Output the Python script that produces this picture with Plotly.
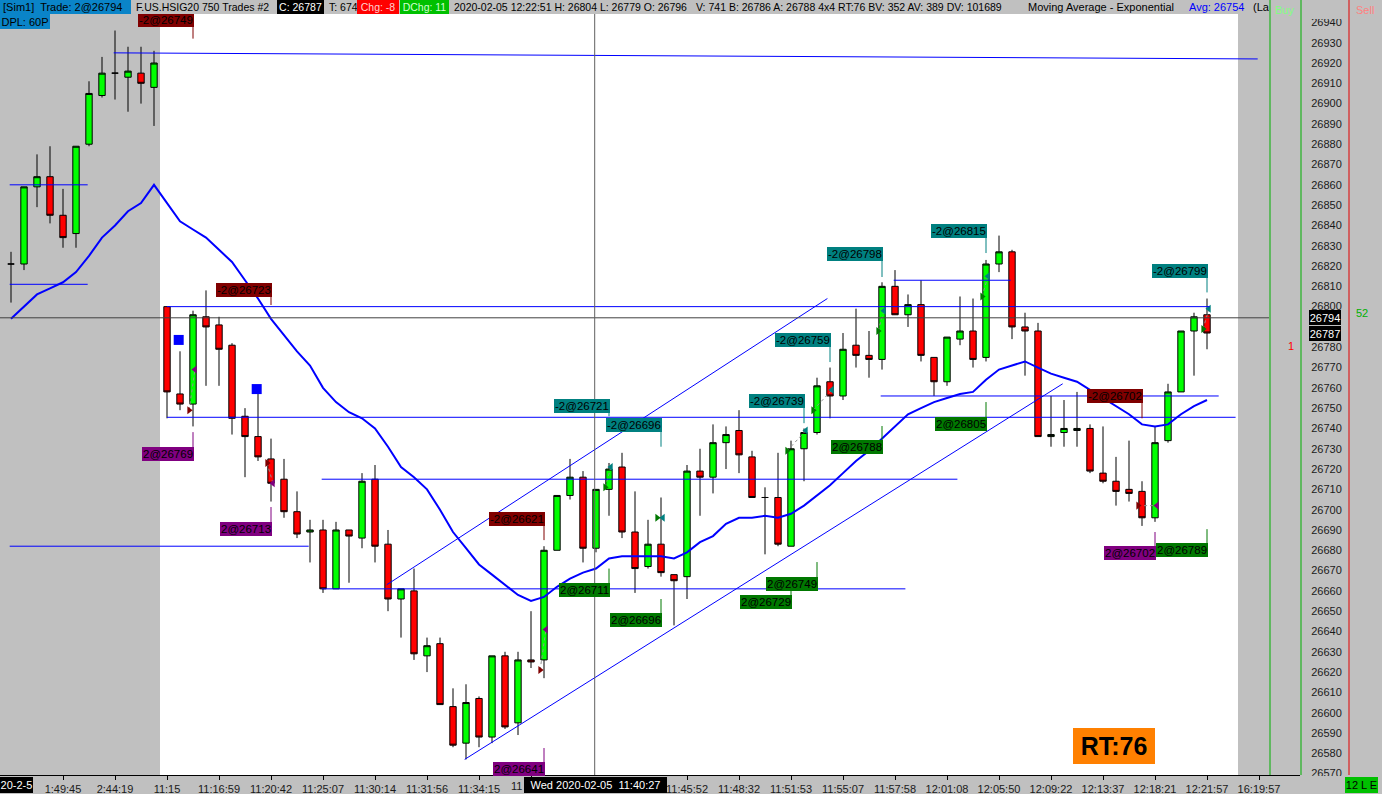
import plotly.graph_objects as go

# ---------------- data ----------------
opens = [26821, 26821, 26859, 26864, 26845, 26836, 26880, 26904, 26915, 26913, 26915, 26908,
         26800, 26757, 26752, 26795, 26791, 26781, 26746, 26736, 26725, 26715, 26699, 26689,
         26690, 26661, 26690, 26686, 26715, 26683, 26656, 26660, 26628, 26634, 26603, 26585,
         26607, 26588, 26628, 26595, 26626, 26626, 26680, 26707, 26716, 26681, 26710, 26721,
         26689, 26672, 26683, 26668, 26667, 26719, 26716, 26733, 26739, 26726, 26706, 26706,
         26682, 26730, 26738, 26763, 26756, 26781, 26776, 26774, 26810, 26796, 26801, 26775,
         26763, 26784, 26788, 26775, 26821, 26827, 26790, 26788, 26736, 26738, 26739, 26740,
         26718, 26714, 26710, 26709, 26696, 26734, 26758, 26788, 26796]
highs = [26827, 26859, 26875, 26879, 26858, 26879, 26911, 26923, 26936, 26928, 26928, 26926,
         26800, 26778, 26798, 26808, 26795, 26782, 26750, 26757, 26735, 26725, 26709, 26695,
         26695, 26694, 26690, 26718, 26722, 26690, 26661, 26671, 26637, 26637, 26612, 26614,
         26608, 26628, 26630, 26630, 26650, 26682, 26707, 26725, 26719, 26710, 26723, 26728,
         26709, 26695, 26706, 26668, 26722, 26730, 26742, 26741, 26749, 26729, 26711, 26728,
         26734, 26740, 26765, 26770, 26787, 26799, 26788, 26812, 26818, 26806, 26813, 26775,
         26785, 26805, 26804, 26823, 26835, 26828, 26797, 26792, 26756, 26754, 26758, 26742,
         26741, 26726, 26734, 26714, 26741, 26762, 26788, 26797, 26804]
lows = [26802, 26818, 26849, 26841, 26829, 26829, 26879, 26903, 26902, 26896, 26900, 26889,
        26745, 26749, 26741, 26761, 26761, 26737, 26716, 26724, 26704, 26696, 26686, 26674,
        26659, 26661, 26664, 26681, 26674, 26650, 26637, 26626, 26620, 26604, 26583, 26577,
        26583, 26585, 26592, 26589, 26622, 26617, 26680, 26705, 26674, 26679, 26697, 26686,
        26659, 26671, 26667, 26643, 26656, 26697, 26708, 26720, 26718, 26706, 26678, 26682,
        26682, 26714, 26737, 26745, 26754, 26770, 26765, 26769, 26796, 26790, 26773, 26756,
        26761, 26781, 26770, 26773, 26817, 26784, 26766, 26736, 26731, 26731, 26731, 26718,
        26713, 26702, 26704, 26692, 26694, 26733, 26758, 26766, 26779]
closes = [26821, 26859, 26864, 26845, 26834, 26879, 26905, 26915, 26915, 26916, 26910, 26920,
          26758, 26752, 26796, 26790, 26779, 26745, 26736, 26726, 26713, 26699, 26688, 26690,
          26661, 26690, 26687, 26714, 26682, 26656, 26661, 26629, 26633, 26604, 26584, 26605,
          26588, 26628, 26593, 26626, 26625, 26680, 26707, 26716, 26681, 26710, 26720, 26689,
          26671, 26683, 26669, 26665, 26719, 26716, 26733, 26737, 26727, 26706, 26706, 26683,
          26730, 26738, 26761, 26756, 26779, 26776, 26774, 26810, 26796, 26801, 26776, 26763,
          26785, 26788, 26774, 26821, 26827, 26790, 26788, 26736, 26737, 26740, 26740, 26719,
          26714, 26709, 26708, 26696, 26733, 26758, 26788, 26795, 26787]
ema_values = [26794, 26800, 26806, 26809, 26812, 26817, 26825, 26834, 26840, 26847, 26851, 26860,
              26851, 26842, 26838, 26834, 26828, 26822, 26813, 26804, 26794, 26786, 26778, 26771,
              26760, 26753, 26748, 26745, 26740, 26731, 26721, 26716, 26710, 26700, 26689, 26681,
              26673, 26668, 26663, 26658, 26655, 26657, 26662, 26666, 26669, 26671, 26676, 26677,
              26677, 26677, 26677, 26676, 26679, 26684, 26687, 26693, 26696, 26696, 26697, 26696,
              26698, 26702, 26707, 26712, 26718, 26724, 26729, 26735, 26741, 26747, 26750, 26753,
              26755, 26757, 26758, 26764, 26769, 26771, 26773, 26770, 26767, 26765, 26763, 26759,
              26755, 26751, 26747, 26742, 26741, 26742, 26747, 26751, 26754]
bars = list(range(len(opens)))

# x tick labels (bar 40's label is mostly hidden under the crosshair time box; 44 and 48 fully)
tick_bars = [4, 8, 12, 16, 20, 24, 28, 32, 36, 40, 52, 56, 60, 64, 68, 72, 76, 80, 84, 88, 92, 96]
tick_text = ["1:49:45", "2:44:19", "11:15", "11:16:59", "11:20:42", "11:25:07", "11:30:14",
             "11:31:56", "11:34:15", "", "11:45:52", "11:48:32",
             "11:51:53", "11:55:07", "11:57:58", "12:01:08", "12:05:50", "12:09:22", "12:13:37",
             "12:18:21", "12:21:57", "16:19:57"]
partial_tick_text = "11"

# price axis labels (26790 sits under the last-price boxes)
price_ticks = [p for p in range(26570, 26950, 10) if p != 26790]

# drawn horizontal / trend lines: (start bar, start price) -> (end bar, end price)
line_x0 = [7.9, -0.1, -0.1, 12, 12, 23.9, -0.1, 23.9, 67.9, 66.9, 28.9, 34.9]
line_y0 = [26925, 26860, 26811, 26800, 26745.5, 26715, 26682, 26661, 26813, 26756, 26663, 26577]
line_x1 = [95.9, 5.9, 5.9, 92.2, 94.2, 72.8, 22.9, 68.8, 76.9, 92.9, 62.8, 80.9]
line_y1 = [26922, 26860, 26811, 26800, 26745.5, 26715, 26682, 26661, 26813, 26756, 26804, 26762]

last_price = 26794
close_price = 26787
crosshair_bar = 44.9

# trade labels
tl_text = ["-2@26749", "2@26769", "-2@26723", "2@26713", "-2@26621", "2@26641",
           "-2@26721", "2@26711", "-2@26696", "2@26696", "2@26729", "-2@26739",
           "2@26749", "-2@26759", "-2@26798", "2@26788", "-2@26815", "2@26805",
           "-2@26702", "2@26702", "-2@26799", "2@26789"]
tl_bar = [14, 14, 20, 20, 41, 41, 46, 46, 50, 50, 60, 61, 62, 63, 67, 67, 75, 75, 87, 88, 92, 92]
tl_label_price = [26941, 26727.6, 26808.4, 26690.7, 26695.6, 26572.2,
                  26751.3, 26660.6, 26741.9, 26645.9, 26654.7, 26753.7,
                  26663.6, 26783.8, 26825.7, 26731.1, 26837.5, 26742.4,
                  26756.2, 26678.9, 26817.8, 26679.9]
tl_tick_end = [26932, 26738.2, 26800.8, 26701.3, 26685, 26582.6,
               26746, 26671, 26731, 26656, 26660, 26742.6,
               26674.2, 26772.7, 26814.6, 26741.2, 26826.4, 26753,
               26745, 26689, 26807, 26690.4]
tl_kind = ["sell_in", "buy_out", "sell_in", "buy_out", "sell_in", "buy_out",
           "sell_out", "buy_in", "sell_out", "buy_in", "buy_in", "sell_out",
           "buy_in", "sell_out", "sell_out", "buy_in", "sell_out", "buy_in",
           "sell_in", "buy_out", "sell_out", "buy_in"]
trade_pairs = [(0, 1), (2, 3), (4, 5), (7, 6), (9, 8), (10, 11), (12, 13), (15, 14), (17, 16), (18, 19), (21, 20)]

square_bars = [12.9, 18.9]
square_prices = [26783.6, 26759.4]

# ---------------- geometry helpers ----------------
W, H = 1382, 794
PLOT_R, PLOT_T, PLOT_B = 1300, 14, 775
FONT = "Liberation Sans"


def px2bar(px):
    return (px - 11) / 13.0


def px2price(py):
    return 26930 + (42.7 - py) * 0.49254


def xp(px):
    return px / PLOT_R


def yp(py):
    return (PLOT_B - py) / (PLOT_B - PLOT_T)


KIND_COLOR = {"sell_in": "#800000", "buy_out": "#800080", "sell_out": "#008080", "buy_in": "#007800"}
KIND_SYMBOL = {"sell_in": "triangle-right", "buy_out": "triangle-left",
               "sell_out": "triangle-left", "buy_in": "triangle-right"}
KIND_SHIFT = {"sell_in": -0.3, "buy_out": 0.15, "sell_out": 0.15, "buy_in": -0.3}

fig = go.Figure()

fig.add_trace(go.Candlestick(
    x=bars, open=opens, high=highs, low=lows, close=closes,
    increasing=dict(fillcolor="#00ff00", line=dict(color="black", width=1)),
    decreasing=dict(fillcolor="#ff0000", line=dict(color="black", width=1)),
    whiskerwidth=0, hoverinfo="skip", showlegend=False))

# connectors between trade markers
cx, cy = [], []
for a, b in trade_pairs:
    for k in (a, b):
        cx.append(tl_bar[k] + KIND_SHIFT[tl_kind[k]])
        cy.append(float(tl_text[k].split("@")[1]))
    cx.append(None)
    cy.append(None)
fig.add_trace(go.Scatter(x=cx, y=cy, mode="lines", line=dict(color="#909090", width=1, dash="dot"),
                         hoverinfo="skip", showlegend=False))

fig.add_trace(go.Scatter(x=bars, y=ema_values, mode="lines", line=dict(color="#0000ff", width=2),
                         hoverinfo="skip", showlegend=False))

# trade markers
fig.add_trace(go.Scatter(
    x=[tl_bar[k] + KIND_SHIFT[tl_kind[k]] for k in range(len(tl_text))],
    y=[float(t.split("@")[1]) for t in tl_text],
    mode="markers",
    marker=dict(symbol=[KIND_SYMBOL[k] for k in tl_kind], color=[KIND_COLOR[k] for k in tl_kind], size=7),
    hoverinfo="skip", showlegend=False))

fig.add_trace(go.Scatter(x=square_bars, y=square_prices, mode="markers",
                         marker=dict(symbol="square", color="#0000ff", size=10),
                         hoverinfo="skip", showlegend=False))

shapes = []
# grey session / margin areas
shapes.append(dict(type="rect", xref="x", yref="paper", x0=px2bar(0), x1=px2bar(160), y0=0, y1=1,
                   fillcolor="#c0c0c0", line=dict(width=0), layer="below"))
shapes.append(dict(type="rect", xref="x", yref="paper", x0=px2bar(1238), x1=px2bar(1300), y0=0, y1=1,
                   fillcolor="#c0c0c0", line=dict(width=0), layer="below"))
# drawn lines
for x0, y0, x1, y1 in zip(line_x0, line_y0, line_x1, line_y1):
    shapes.append(dict(type="line", xref="x", yref="y", x0=x0, y0=y0, x1=x1, y1=y1,
                       line=dict(color="#0000ff", width=1)))
# last price line
shapes.append(dict(type="line", xref="x", yref="y", x0=px2bar(0), x1=px2bar(1269), y0=last_price + 0.5,
                   y1=last_price + 0.5, line=dict(color="#404040", width=1)))
# crosshair
shapes.append(dict(type="line", xref="x", yref="paper", x0=crosshair_bar, x1=crosshair_bar, y0=0, y1=yp(0),
                   line=dict(color="#606060", width=1)))
# trade label ticks
for b, p0, p1, k in zip(tl_bar, tl_label_price, tl_tick_end, tl_kind):
    shapes.append(dict(type="line", xref="x", yref="y", x0=b, x1=b, y0=p0, y1=p1,
                       line=dict(color=KIND_COLOR[k], width=1)))
# buy / sell column separators
for px, col in ((1270, "#00b000"), (1301, "#00b000"), (1349, "#e00000")):
    shapes.append(dict(type="line", xref="paper", yref="paper", x0=xp(px), x1=xp(px), y0=0, y1=yp(0),
                       line=dict(color=col, width=1)))

annotations = []
# trade labels
for t, b, p, k in zip(tl_text, tl_bar, tl_label_price, tl_kind):
    annotations.append(dict(x=b, y=p, xref="x", yref="y", text=t, showarrow=False, xanchor="right",
                            yanchor="middle", bgcolor=KIND_COLOR[k], borderpad=1, borderwidth=0,
                            xshift=1, font=dict(family=FONT, size=11.5, color="black")))


def box(text, x0, x1, y0, y1, bg, fc, size=10.5, align="left", bold=False):
    return dict(xref="paper", yref="paper", x=xp(x0), y=yp((y0 + y1) / 2.0), xanchor="left",
                yanchor="middle", width=x1 - x0, height=y1 - y0, bgcolor=bg,
                text=("<b>%s</b>" % text) if bold else text,
                showarrow=False, align=align, borderpad=0, borderwidth=0,
                font=dict(family=FONT, size=size, color=fc))


def txt(text, x, y, fc="black", size=10.5, anchor="left"):
    return dict(xref="paper", yref="paper", x=xp(x), y=yp(y), xanchor=anchor, yanchor="middle",
                text=text, showarrow=False, font=dict(family=FONT, size=size, color=fc))


# header row
annotations.append(box(" ", 0, 1268, 0, 14, "#c0c0c0", "black"))
annotations.append(box(" [Sim1]  Trade: 2@26794", 0, 131, 0, 14, "#0a84c8", "black", size=11))
annotations.append(txt("F.US.HSIG20 750 Trades #2", 134, 7))
annotations.append(box("C: 26787", 277, 324, 0, 14, "#000000", "white", align="center"))
annotations.append(txt("T: 674", 327, 7))
annotations.append(box("Chg: -8", 357, 399, 0, 14, "#ff0000", "#ffd0d0", align="center"))
annotations.append(box("DChg: 11", 400, 449, 0, 14, "#00c000", "#d0ffd0", align="center"))
annotations.append(txt("2020-02-05 12:22:51 H: 26804 L: 26779 O: 26796", 452, 7))
annotations.append(txt("V: 741 B: 26786 A: 26788 4x4 RT:76 BV: 352 AV: 389 DV: 101689", 694, 7))
annotations.append(txt("Moving Average - Exponential", 1026, 7, size=11))
annotations.append(txt("Avg: 26754", 1187, 7, fc="#0000ff", size=11))
annotations.append(box("(La", 1253, 1269, 0, 14, "rgba(0,0,0,0)", "black", size=11))
annotations.append(box("DPL: 60P", 0, 50, 14, 29, "#0a84c8", "black", size=11, align="center"))
annotations.append(txt("Buy", 1284, 10, fc="#80ff80", size=11, anchor="center"))
annotations.append(txt("Sell", 1365, 10, fc="#ff8080", size=11, anchor="center"))
annotations.append(box(" ", 1302, 1348, 0, 19, "#c0c0c0", "black"))
annotations.append(box(" ", 1302, 1348, 776, 794, "#c0c0c0", "black"))
# price boxes on the axis
annotations.append(box(str(last_price), 1309, 1341, 310, 325, "#000000", "white", size=11, align="center"))
annotations.append(box(str(close_price), 1309, 1341, 326, 341, "#000000", "white", size=11, align="center"))
annotations.append(txt("1", 1286, 346, fc="#ff0000", size=11))
annotations.append(txt("52", 1354, 313, fc="#00b000", size=11))
# partially visible tick label left of the crosshair box
annotations.append(txt(partial_tick_text, 509, 786, fc="#1a1a1a", size=11))
# bottom strip boxes
annotations.append(box("20-2-5", 0, 33, 777, 793, "#000000", "white", size=11, align="center"))
annotations.append(box("Wed 2020-02-05  11:40:27", 524, 667, 777, 793, "#000000", "white", size=11,
                       align="center"))
annotations.append(box("12 L E", 1345, 1378, 777, 793, "#00c000", "black", size=11, align="center"))
# RT box
annotations.append(box("RT:76", 1073, 1155, 728, 764, "#ff8000", "black", size=25, align="center", bold=True))

fig.update_layout(
    width=W, height=H,
    margin=dict(l=0, r=W - PLOT_R, t=PLOT_T, b=H - PLOT_B, pad=0),
    paper_bgcolor="#c0c0c0", plot_bgcolor="white",
    showlegend=False,
    shapes=shapes, annotations=annotations,
    xaxis=dict(range=[px2bar(0), px2bar(PLOT_R)], showgrid=False, zeroline=False,
               tickmode="array", tickvals=tick_bars, ticktext=tick_text,
               ticks="outside", ticklen=4, tickcolor="black", showline=True, linecolor="black",
               linewidth=1, tickfont=dict(family=FONT, size=11, color="#1a1a1a"),
               rangeslider=dict(visible=False), fixedrange=True),
    yaxis=dict(range=[px2price(PLOT_B), px2price(PLOT_T)], side="right", showgrid=False, zeroline=False,
               tickmode="array", tickvals=price_ticks, ticktext=[str(p) for p in price_ticks],
               ticks="outside", ticklen=8, tickcolor="rgba(0,0,0,0)",
               showline=False, tickfont=dict(family=FONT, size=11, color="#1a1a1a"),
               fixedrange=True),
    font=dict(family=FONT, size=11, color="black"),
)

fig.write_html("out.html", config={"displayModeBar": False},
               post_script="document.body.style.margin='0';")
